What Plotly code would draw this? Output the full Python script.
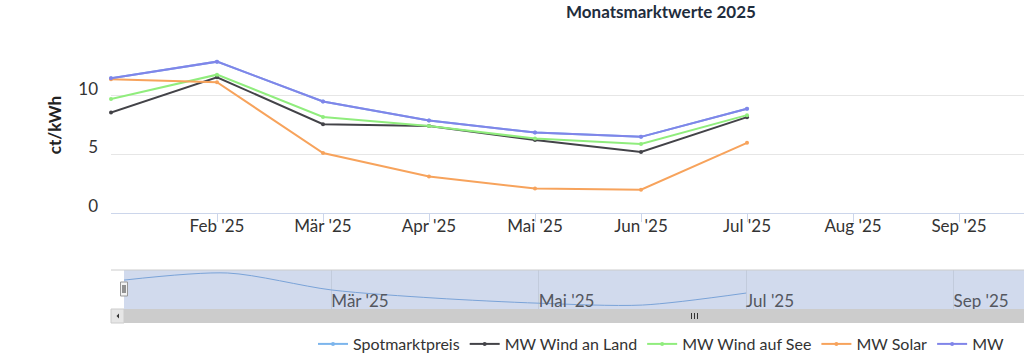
import plotly.graph_objects as go

# ---------------- data ----------------
months = ["Jan '25", "Feb '25", "Mär '25", "Apr '25", "Mai '25", "Jun '25",
          "Jul '25", "Aug '25", "Sep '25"]
data_months = months[:7]

spotmarktpreis = [11.48, 12.90, 9.51, 7.88, 6.86, 6.49, 8.89]
mw_wind_land = [8.57, 11.57, 7.57, 7.42, 6.22, 5.20, 8.17]
mw_wind_see = [9.71, 11.79, 8.19, 7.42, 6.34, 5.89, 8.34]
mw_solar = [11.40, 11.14, 5.11, 3.11, 2.08, 1.98, 5.98]
mw = [11.48, 12.90, 9.51, 7.88, 6.86, 6.49, 8.89]

y_ticks = [0, 5, 10, 15]
y_ticktext = ["0", "5", "10", ""]

# ---------------- layout helpers (pixel -> paper) ----------------
W, H = 1024, 358
ML, MR, MT, MB = 111, 0, 37, 49
PW = W - ML - MR
PH = H - MT - MB


def px(xp):
    return (xp - ML) / PW


def py(yp):
    return (H - MB - yp) / PH


FONT = "Lato, 'Open Sans', sans-serif"
colors = {
    "Spotmarktpreis": "#7cb5ec",
    "MW Wind an Land": "#434348",
    "MW Wind auf See": "#90ed7d",
    "MW Solar": "#f7a35c",
    "MW": "#8085e9",
}

fig = go.Figure()

# register all categories on both axes
fig.add_trace(go.Scatter(x=months, y=[None] * len(months), mode="lines",
                         showlegend=False, hoverinfo="skip", xaxis="x", yaxis="y"))
fig.add_trace(go.Scatter(x=months, y=[None] * len(months), mode="lines",
                         showlegend=False, hoverinfo="skip", xaxis="x2", yaxis="y2"))

series = [
    ("Spotmarktpreis", spotmarktpreis),
    ("MW Wind an Land", mw_wind_land),
    ("MW Wind auf See", mw_wind_see),
    ("MW Solar", mw_solar),
    ("MW", mw),
]
for name, vals in series:
    fig.add_trace(go.Scatter(
        x=data_months, y=vals, name=name, mode="lines+markers",
        line=dict(color=colors[name], width=2),
        marker=dict(color=colors[name], size=4),
        cliponaxis=False, xaxis="x", yaxis="y",
    ))

# navigator series
fig.add_trace(go.Scatter(
    x=data_months, y=spotmarktpreis, mode="lines", showlegend=False,
    line=dict(color="#7aa3d8", width=1, shape="spline", smoothing=0.8),
    hoverinfo="skip", xaxis="x2", yaxis="y2",
))

shapes = []
# navigator mask
shapes.append(dict(type="rect", xref="x2 domain", yref="y2 domain", x0=0, x1=1, y0=0, y1=1,
                   fillcolor="#d1daed", line=dict(width=0), layer="below"))
# navigator top outline
shapes.append(dict(type="line", xref="paper", yref="paper", x0=0, x1=1,
                   y0=py(270), y1=py(270), line=dict(color="#cccccc", width=1)))
# scrollbar track & bar
shapes.append(dict(type="rect", xref="paper", yref="paper", x0=0, x1=1,
                   y0=py(323), y1=py(309), fillcolor="#f2f2f2", line=dict(width=0)))
shapes.append(dict(type="rect", xref="paper", yref="paper", x0=px(124), x1=1,
                   y0=py(323), y1=py(309), fillcolor="#cccccc", line=dict(width=0)))
# left scroll button
shapes.append(dict(type="rect", xref="paper", yref="paper", x0=px(111), x1=px(124),
                   y0=py(323), y1=py(309), fillcolor="#e6e6e6",
                   line=dict(color="#cccccc", width=1)))
shapes.append(dict(type="path", xref="paper", yref="paper",
                   path=f"M {px(116.5)} {py(316)} L {px(119)} {py(313.5)} L {px(119)} {py(318.5)} Z",
                   fillcolor="#333333", line=dict(width=0)))
# grip lines
for gx in (691.5, 694.5, 697.5):
    shapes.append(dict(type="line", xref="paper", yref="paper", x0=px(gx), x1=px(gx),
                       y0=py(319), y1=py(313), line=dict(color="#333333", width=1)))
# navigator handle
shapes.append(dict(type="rect", xref="paper", yref="paper", x0=px(120.5), x1=px(127.5),
                   y0=py(296), y1=py(282), fillcolor="#f2f2f2",
                   line=dict(color="#999999", width=1)))
for hx in (123, 125):
    shapes.append(dict(type="line", xref="paper", yref="paper", x0=px(hx), x1=px(hx),
                       y0=py(293), y1=py(285), line=dict(color="#333333", width=1)))

fig.update_layout(
    width=W, height=H,
    margin=dict(l=ML, r=MR, t=MT, b=MB, pad=0, autoexpand=False),
    paper_bgcolor="white", plot_bgcolor="rgba(0,0,0,0)",
    font=dict(family=FONT, size=17, color="#333333"),
    title=dict(text="<b>Monatsmarktwerte 2025</b>", xref="container", yref="container",
               x=661 / W, y=1 - 12 / H, xanchor="center", yanchor="middle",
               font=dict(family=FONT, size=17, color="#1f2d3d")),
    xaxis=dict(
        type="category", categoryorder="array", categoryarray=months,
        range=[0, 8.613], domain=[0, 1], anchor="y", automargin=False,
        tickvals=months[1:], ticktext=months[1:],
        showgrid=False, showline=True, linecolor="#ccd6eb", linewidth=1,
        ticks="outside", ticklen=8, tickcolor="#ccd6eb", tickwidth=1,
        ticklabelstandoff=-10,
        tickfont=dict(family=FONT, size=17, color="#333333"),
        fixedrange=True, zeroline=False,
    ),
    yaxis=dict(
        range=[0, 15], domain=[py(213), 1], anchor="x", automargin=False,
        tickvals=y_ticks, ticktext=y_ticktext,
        showgrid=True, gridcolor="#e6e6e6", gridwidth=1, zeroline=False,
        showline=False, ticks="", ticklabelshift=-7, ticklabelstandoff=12,
        tickfont=dict(family=FONT, size=17, color="#333333"),
        title=dict(text="<b>ct/kWh</b>", standoff=12,
                   font=dict(family=FONT, size=17, color="#222222")),
    ),
    xaxis2=dict(
        type="category", categoryorder="array", categoryarray=months,
        range=[0, 8.68], domain=[px(124), 1], anchor="y2", automargin=False,
        tickvals=months[2::2], ticktext=months[2::2],
        showgrid=True, gridcolor="#c2cbdc", gridwidth=1,
        showline=False, ticks="", ticklabelposition="inside right",
        ticklabelstandoff=-7,
        tickfont=dict(family=FONT, size=17, color="#54575f"),
        zeroline=False,
    ),
    yaxis2=dict(
        range=[5.7, 13.5], domain=[0, py(270)], anchor="x2", automargin=False,
        showgrid=False, showticklabels=False, ticks="", zeroline=False, showline=False,
    ),
    legend=dict(
        orientation="h", x=px(661), xanchor="center", y=py(344), yanchor="middle",
        font=dict(family=FONT, size=16, color="#333333"),
        bgcolor="rgba(0,0,0,0)",
    ),
    shapes=shapes,
    showlegend=True,
)

fig.write_html("out.html", config={"displayModeBar": False},
               post_script="document.body.style.margin='0px';")
